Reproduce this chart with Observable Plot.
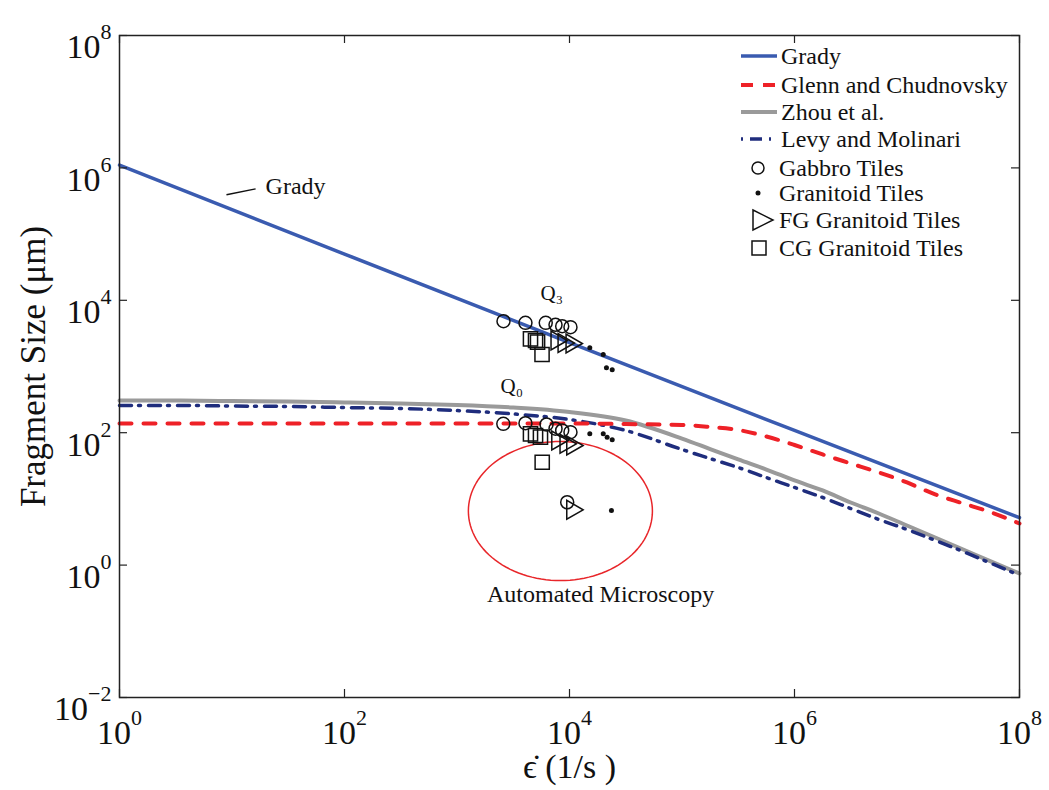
<!DOCTYPE html>
<html>
<head>
<meta charset="utf-8">
<script src="https://cdn.jsdelivr.net/npm/d3@7"></script>
<script src="https://cdn.jsdelivr.net/npm/@observablehq/plot@0.6"></script>
<style>
  body { margin: 0; background: #fff; }
  #chart { width: 1049px; height: 790px; }
</style>
</head>
<body>
<div id="chart"></div>
<script>
// ---------------- DATA ----------------
// strain-rate grid (1/s) used for the model curves
const modelRate = [1, 3.16, 10, 31.6, 100, 316, 1000, 3160, 1e4, 3.16e4, 1e5, 1.78e5, 3.16e5, 5.62e5,
                   1e6, 1.78e6, 3.16e6, 5.62e6, 1e7, 1.78e7, 3.16e7, 5.62e7, 1e8];
// fragment size (µm)
const zhouSize  = [306, 306, 301, 296, 286, 276, 262, 240, 206, 153, 81.6, 56.7, 39.4, 27.8,
                   19.0, 13.4, 8.83, 6.02, 3.96, 2.61, 1.72, 1.13, 0.746];
const levySize  = [258, 258, 253, 249, 240, 232, 216, 192, 158, 108, 55.7, 40.7, 29.8, 21.0,
                   14.9, 10.5, 7.16, 4.89, 3.45, 2.36, 1.60, 1.06, 0.70];
const glennSize = [138, 138, 138, 138, 138, 138, 138, 138, 138, 135, 131, 122, 110, 87.7,
                   65.2, 46.9, 34.3, 25.1, 17.7, 11.7, 8.53, 6.24, 4.25];
const gradyRate = [1, 1e2, 1e4, 1e6, 1e8];
const gradySize = [1.1e6, 5.0e4, 2.3e3, 108, 5.2];

// experimental tiles
const gabbroRate = [2590, 4060, 6150, 7510, 8610, 10200, 2580, 4060, 6250, 7510, 8610, 10200, 9540];
const gabbroSize = [4830, 4570, 4570, 4270, 4060, 3930, 136, 139, 133, 115, 108, 102, 8.9];
const granitoidRate = [15150, 19950, 21300, 23970, 15150, 19950, 21600, 23970, 23600];
const granitoidSize = [1915, 1517, 955, 891, 96, 96, 85.5, 78, 6.7];
const fgRate = [7660, 8850, 10420, 7780, 9210, 10570, 10570];
const fgSize = [2470, 2265, 2225, 76.2, 67.9, 64.1, 6.84];
const cgRate = [4500, 4990, 5200, 5700, 4500, 4990, 5520, 5720];
const cgSize = [2620, 2470, 2330, 1517, 96, 90.8, 85.5, 35.8];

// tick values
const xTicks = [1, 1e2, 1e4, 1e6, 1e8];
const yTicks = [1e-2, 1, 1e2, 1e4, 1e6, 1e8];

// texts
const xLabelSymbol = "\u03F5\u0307";
const xLabelUnit = " (1/s )";
const yLabel = "Fragment Size (\u03BCm)";
const legendLabels = ["Grady", "Glenn and Chudnovsky", "Zhou et al.", "Levy and Molinari",
                      "Gabbro Tiles", "Granitoid Tiles", "FG Granitoid Tiles", "CG Granitoid Tiles"];

// annotations (data coordinates)
const gradyNote = [{x: 19.9, y: 5.2e5, text: "Grady"}];
const gradyLeader = [{x1: 8.93, y1: 3.93e5, x2: 16.2, y2: 4.82e5}];
const qNotes = [{x: 5520, y: 1.27e4, text: "Q\u2083"}, {x: 2440, y: 499, text: "Q\u2080"}];
const microNote = [{x: 18900, y: 0.36, text: "Automated Microscopy"}];
// ellipse around the microscopy points: centre and half-axes in decades
const ellipseCentre = {x: 8300, y: 6.56};
const ellipseHalfDecades = {x: 0.818, y: 1.05};

// ---------------- BUILD ----------------
const zip = (xs, ys) => xs.map((x, i) => ({x, y: ys[i]}));
const zhou = zip(modelRate, zhouSize);
const levy = zip(modelRate, levySize);
const glenn = zip(modelRate, glennSize);
const grady = zip(gradyRate, gradySize);
const gabbro = zip(gabbroRate, gabbroSize);
const granitoid = zip(granitoidRate, granitoidSize);
const fg = zip(fgRate, fgSize);
const cg = zip(cgRate, cgSize);
const ellipse = d3.range(0, 2 * Math.PI, Math.PI / 60).map(t => ({
  x: Math.pow(10, Math.log10(ellipseCentre.x) + ellipseHalfDecades.x * Math.cos(t)),
  y: Math.pow(10, Math.log10(ellipseCentre.y) + ellipseHalfDecades.y * Math.sin(t))
}));

const C_GRADY = "#3a5bb0", C_GLENN = "#ee2127", C_ZHOU = "#9a9a9a", C_LEVY = "#1f2d7d";
const FONT = "'Liberation Serif','Times New Roman',Times,serif";
const supFmt = d => "10^" + String(Math.round(Math.log10(d))).replace("-", "\u2212");

const W = 1049, H = 790, ML = 119, MR = 30, MT = 35, MB = 93;
const FW = W - ML - MR, FH = H - MT - MB;

const svg = Plot.plot({
  width: W, height: H,
  marginLeft: ML, marginRight: MR, marginTop: MT, marginBottom: MB,
  style: {fontFamily: FONT, fontSize: "24px", background: "white", color: "#111"},
  x: {type: "log", domain: [1, 1e8]},
  y: {type: "log", domain: [1e-2, 1e8]},
  marks: [
    Plot.line(ellipse, {x: "x", y: "y", stroke: "#e8262a", strokeWidth: 1.5, curve: "linear-closed"}),
    Plot.line(zhou, {x: "x", y: "y", stroke: C_ZHOU, strokeWidth: 4, curve: "monotone-x"}),
    Plot.line(levy, {x: "x", y: "y", stroke: C_LEVY, strokeWidth: 3.5, strokeDasharray: "12,7,2,8", curve: "monotone-x"}),
    Plot.line(glenn, {x: "x", y: "y", stroke: C_GLENN, strokeWidth: 4, strokeDasharray: "12,12", curve: "monotone-x"}),
    Plot.line(grady, {x: "x", y: "y", stroke: C_GRADY, strokeWidth: 3.5}),
    Plot.dot(gabbro, {x: "x", y: "y", r: 6.5, stroke: "#111", strokeWidth: 1.5, fill: "none"}),
    Plot.dot(cg, {x: "x", y: "y", symbol: "square", r: 8, stroke: "#111", strokeWidth: 1.5, fill: "none"}),
    Plot.dot(fg, {x: "x", y: "y", symbol: "triangle", rotate: 90, r: 7, stroke: "#111", strokeWidth: 1.5, fill: "none"}),
    Plot.dot(granitoid, {x: "x", y: "y", r: 2.5, fill: "#111", stroke: "none"}),
    Plot.frame({stroke: "#222", strokeWidth: 1.5}),
    Plot.tickX(xTicks, {x: d => d, insetTop: FH - 8, stroke: "#222", strokeWidth: 1.2}),
    Plot.tickX(xTicks, {x: d => d, insetBottom: FH - 8, stroke: "#222", strokeWidth: 1.2}),
    Plot.tickY(yTicks, {y: d => d, insetRight: FW - 8, stroke: "#222", strokeWidth: 1.2}),
    Plot.tickY(yTicks, {y: d => d, insetLeft: FW - 8, stroke: "#222", strokeWidth: 1.2}),
    Plot.axisX({ticks: xTicks, tickSize: 0, tickPadding: 22, tickFormat: supFmt, fontSize: 34, label: null}),
    Plot.axisY({ticks: yTicks, tickSize: 0, tickPadding: 8, tickFormat: supFmt, fontSize: 34, dy: 12, label: null}),
    Plot.text([xLabelSymbol + xLabelUnit], {frameAnchor: "bottom", dy: 70, text: d => d, fontSize: 34,
                         textAnchor: "middle", lineAnchor: "middle", ariaLabel: "x-title"}),
    Plot.text([yLabel], {frameAnchor: "left", dx: -86, rotate: -90, text: d => d, fontSize: 35,
                         textAnchor: "middle", lineAnchor: "middle"}),
    Plot.link(gradyLeader, {x1: "x1", y1: "y1", x2: "x2", y2: "y2", stroke: "#111", strokeWidth: 1.5}),
    Plot.text(gradyNote, {x: "x", y: "y", text: "text", textAnchor: "start", fontSize: 24}),
    Plot.text(qNotes, {x: "x", y: "y", text: "text", textAnchor: "start", fontSize: 21}),
    Plot.text(microNote, {x: "x", y: "y", text: "text", fontSize: 24})
  ]
});

// superscript exponents in the tick labels
d3.select(svg).selectAll('g[aria-label="x-axis tick label"] text, g[aria-label="y-axis tick label"] text')
  .each(function () {
    const [b, e] = this.textContent.split("^");
    const t = d3.select(this);
    t.text(null);
    t.append("tspan").text(b);
    t.append("tspan").attr("dy", -19).attr("font-size", 22).text(e);
  });

// x title: dotted epsilon set in a font that places the combining dot correctly
d3.select(svg).selectAll('g[aria-label="x-title"] text').each(function () {
  const t = d3.select(this);
  t.text(null);
  t.append("tspan").attr("font-family", "'DejaVu Serif',serif").attr("font-size", 30).text(xLabelSymbol);
  t.append("tspan").text(xLabelUnit);
});

// legend (top right, inside the frame)
const lg = d3.select(svg).append("g").attr("font-family", FONT).attr("font-size", 24)
  .attr("fill", "#111").attr("text-anchor", "start");
const lineStyles = [
  {stroke: C_GRADY, w: 3.5, dash: null},
  {stroke: C_GLENN, w: 4, dash: "12,10"},
  {stroke: C_ZHOU, w: 4, dash: null},
  {stroke: C_LEVY, w: 3.5, dash: "2,7,12,7"}
];
const lineRowsY = [56, 85, 112, 139];
lineStyles.forEach((s, i) => {
  lg.append("line").attr("x1", 741).attr("x2", 777).attr("y1", lineRowsY[i]).attr("y2", lineRowsY[i])
    .attr("stroke", s.stroke).attr("stroke-width", s.w).attr("stroke-dasharray", s.dash);
  lg.append("text").attr("x", 781).attr("y", lineRowsY[i]).attr("dy", "0.35em").text(legendLabels[i]);
});
const markRowsY = [168, 193, 220, 248];
lg.append("circle").attr("cx", 758).attr("cy", markRowsY[0]).attr("r", 6)
  .attr("fill", "none").attr("stroke", "#111").attr("stroke-width", 1.5);
lg.append("circle").attr("cx", 758).attr("cy", markRowsY[1]).attr("r", 2.5).attr("fill", "#111");
lg.append("path").attr("d", `M753,${markRowsY[2] - 10}L773,${markRowsY[2]}L753,${markRowsY[2] + 10}Z`)
  .attr("fill", "none").attr("stroke", "#111").attr("stroke-width", 1.5);
lg.append("rect").attr("x", 752).attr("y", markRowsY[3] - 7).attr("width", 14).attr("height", 14)
  .attr("fill", "none").attr("stroke", "#111").attr("stroke-width", 1.5);
markRowsY.forEach((y, i) => {
  lg.append("text").attr("x", 779).attr("y", y).attr("dy", "0.35em").text(legendLabels[4 + i]);
});

document.getElementById("chart").appendChild(svg);
</script>
</body>
</html>
